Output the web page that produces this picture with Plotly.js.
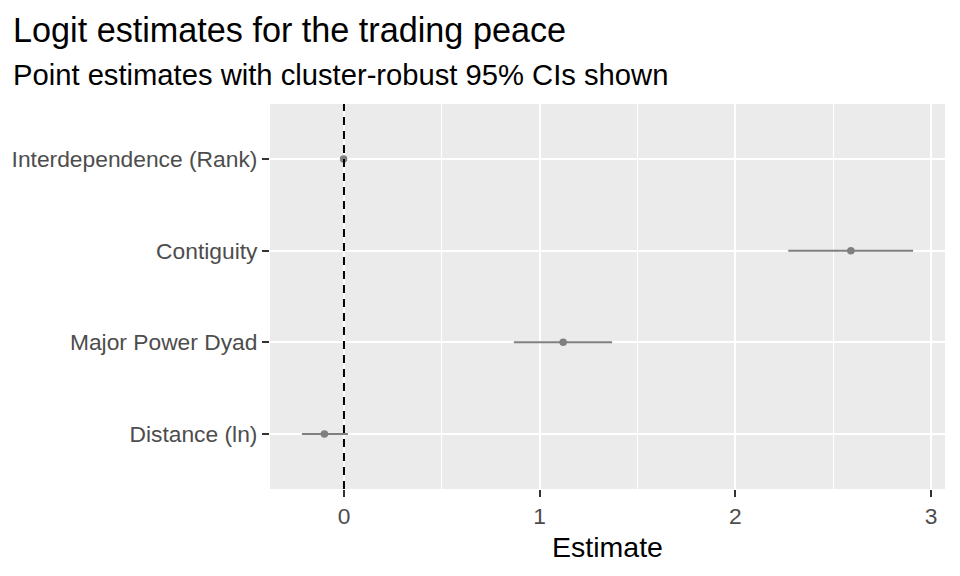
<!DOCTYPE html>
<html>
<head>
<meta charset="utf-8">
<script src="https://cdn.plot.ly/plotly-3.0.1.min.js"></script>
<style>
  html, body { margin: 0; padding: 0; background: #ffffff; }
  #chart { width: 960px; height: 576px; }
</style>
</head>
<body>
<div id="chart"></div>
<script>
// -----------------------------
// Data
// -----------------------------
const terms = ["Distance (ln)", "Major Power Dyad", "Contiguity", "Interdependence (Rank)"];
const estimates = [-0.10, 1.12, 2.59, -0.002];
const lower = [-0.215, 0.868, 2.27, -0.012];
const upper = [0.02, 1.37, 2.908, 0.008];
const xTicks = [0, 1, 2, 3];
const refValue = 0;

const titleText = "Logit estimates for the trading peace";
const subtitleText = "Point estimates with cluster-robust 95% CIs shown";
const xTitleText = "Estimate";

// -----------------------------
// Styling helpers
// -----------------------------
const FONT = "Liberation Sans, Arial, sans-serif";
const POINT_COLOR = "#7F7F7F";
const TICK_TEXT = "#4D4D4D";

const trace = {
  type: "scatter",
  mode: "markers",
  x: estimates,
  y: terms,
  marker: { size: 7.5, color: POINT_COLOR },
  error_x: {
    type: "data",
    symmetric: false,
    array: upper.map((u, i) => u - estimates[i]),
    arrayminus: lower.map((l, i) => estimates[i] - l),
    color: POINT_COLOR,
    thickness: 2,
    width: 0
  },
  hoverinfo: "x+y",
  showlegend: false
};

const layout = {
  width: 960,
  height: 576,
  paper_bgcolor: "#FFFFFF",
  plot_bgcolor: "#EBEBEB",
  margin: { l: 270, r: 15, t: 104, b: 87 },
  font: { family: FONT, color: "#000000" },
  xaxis: {
    range: [-0.378, 3.071],
    tickvals: xTicks,
    ticktext: xTicks.map(String),
    tickfont: { family: FONT, size: 22.8, color: TICK_TEXT },
    ticks: "outside",
    ticklen: 7,
    tickwidth: 2,
    tickcolor: "#333333",
    showgrid: true,
    gridcolor: "#FFFFFF",
    gridwidth: 2,
    minor: { dtick: 0.5, tick0: 0, showgrid: true, gridcolor: "#FFFFFF", gridwidth: 1, ticks: "" },
    zeroline: false,
    showline: false,
    title: { text: xTitleText, font: { family: FONT, size: 28.5, color: "#000000" }, standoff: 8 }
  },
  yaxis: {
    type: "category",
    categoryorder: "array",
    categoryarray: terms,
    range: [-0.6, 3.6],
    tickfont: { family: FONT, size: 22.8, color: TICK_TEXT },
    ticks: "outside",
    ticklen: 7,
    tickwidth: 2,
    tickcolor: "#333333",
    showgrid: true,
    gridcolor: "#FFFFFF",
    gridwidth: 2,
    zeroline: false,
    showline: false
  },
  shapes: [{
    type: "line",
    xref: "x",
    yref: "paper",
    x0: refValue, x1: refValue,
    y0: 0, y1: 1,
    layer: "above",
    line: { color: "#000000", width: 2, dash: "8px,6px" }
  }],
  annotations: [
    {
      text: titleText,
      xref: "paper", yref: "paper",
      x: -0.384, y: 1.193,
      xanchor: "left", yanchor: "middle",
      showarrow: false,
      font: { family: FONT, size: 34.2, color: "#000000" }
    },
    {
      text: subtitleText,
      xref: "paper", yref: "paper",
      x: -0.384, y: 1.076,
      xanchor: "left", yanchor: "middle",
      showarrow: false,
      font: { family: FONT, size: 29.2, color: "#000000" }
    }
  ]
};

Plotly.newPlot("chart", [trace], layout, { displayModeBar: false, staticPlot: true });
</script>
</body>
</html>
